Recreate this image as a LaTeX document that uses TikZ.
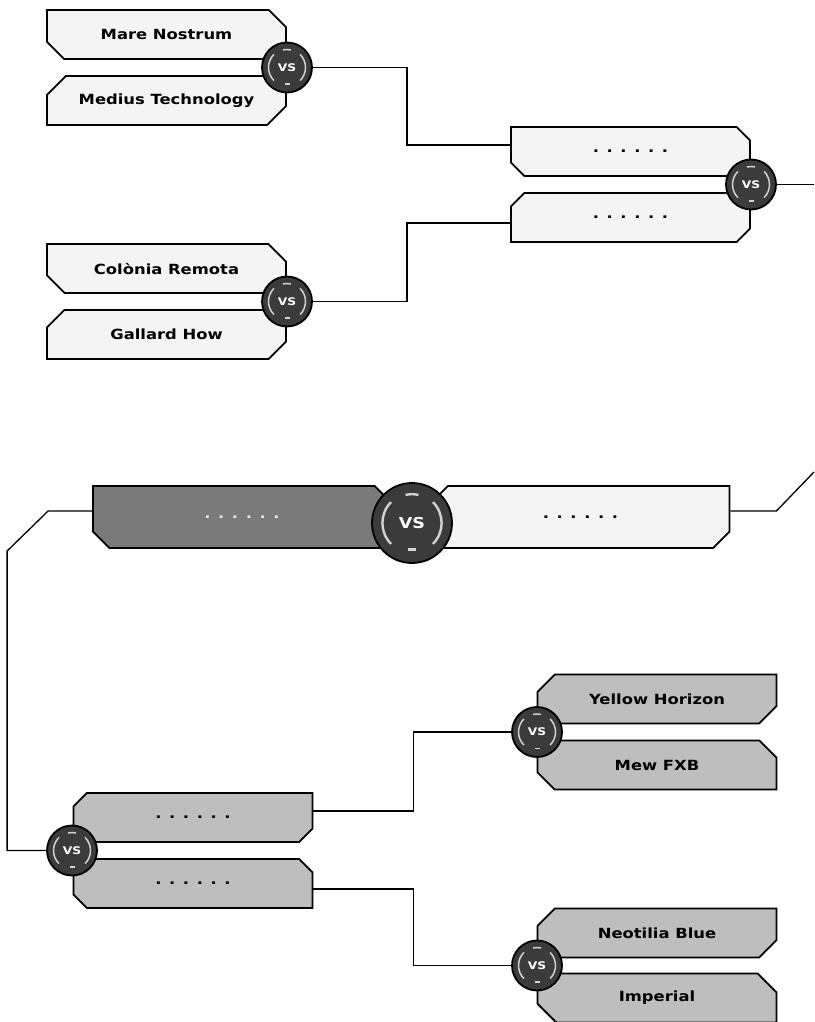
\documentclass[tikz,border=0pt]{standalone}
\usepackage{fontspec}
\setmainfont{DejaVu Sans}[FakeStretch=1.17]
\usetikzlibrary{shapes.misc}
\definecolor{boxlight}{HTML}{F4F4F4}
\definecolor{boxmid}{HTML}{BEBEBE}
\definecolor{boxdark}{HTML}{7A7A7A}
\definecolor{vsfill}{HTML}{3B3B3B}
\definecolor{vsarc}{HTML}{D2D2D2}
\tikzset{
  team/.style={chamfered rectangle, chamfered rectangle xsep=12pt, chamfered rectangle ysep=12pt,
    draw=black, line width=1.8pt, fill=boxlight, minimum width=239pt, minimum height=49pt,
    inner sep=0pt, font=\fontsize{14}{14}\selectfont\bfseries},
  cutup/.style={chamfered rectangle corners={north east,south west}},
  cutdown/.style={chamfered rectangle corners={north west,south east}},
  lower/.style={fill=boxmid},
  finalbox/.style={minimum width=298pt, minimum height=62pt, chamfered rectangle xsep=15pt, chamfered rectangle ysep=15pt},
  vs/.style={circle, draw=black, line width=1.8pt, fill=vsfill, minimum size=2*#1, inner sep=0pt,
    text=white, font=\fontsize{10.5}{10.5}\selectfont\bfseries,
    path picture={
      \draw[vsarc, line width=0.06*#1] (path picture bounding box.center) ++(135:0.74*#1)
        arc[start angle=135, end angle=225, radius=0.74*#1];
      \draw[vsarc, line width=0.06*#1] (path picture bounding box.center) ++(-45:0.74*#1)
        arc[start angle=-45, end angle=45, radius=0.74*#1];
      \draw[vsarc, line width=0.06*#1] (path picture bounding box.center) ++(77:0.72*#1)
        arc[start angle=77, end angle=103, radius=0.72*#1];
      \draw[vsarc, line width=0.07*#1] (path picture bounding box.center) ++(-0.1*#1,-0.66*#1) -- ++(0.2*#1,0);
    }},
  bigvs/.style={font=\fontsize{15}{15}\selectfont\bfseries},
  wire/.style={draw=black, line width=1.3pt}
}
\begin{document}
\begin{tikzpicture}[x=1pt,y=-1pt,line join=miter]
\useasboundingbox (0,0) rectangle (814,1022);
\node[team,cutup] (mare) at (166.5,34.5) {Mare Nostrum};
\node[team,cutdown] (medius) at (166.5,100.5) {Medius Technology};
\node[team,cutup] (colonia) at (166.5,268.5) {Colònia Remota};
\node[team,cutdown] (gallard) at (166.5,334.5) {Gallard How};
\node[team,cutup] (semiA) at (630.5,151.5) {. . . . . .};
\node[team,cutdown] (semiB) at (630.5,217.5) {. . . . . .};
\node[team,cutup,finalbox,fill=boxdark,text=black!10] (finalL) at (242,517) {. . . . . .};
\node[team,cutdown,finalbox] (finalR) at (580.5,517) {. . . . . .};
\node[team,cutdown,lower] (semiC) at (193,817.5) {. . . . . .};
\node[team,cutup,lower] (semiD) at (193,883.5) {. . . . . .};
\node[team,cutdown,lower] (yellow) at (657,699) {Yellow Horizon};
\node[team,cutup,lower] (mew) at (657,765) {Mew FXB};
\node[team,cutdown,lower] (neotilia) at (657,933) {Neotilia Blue};
\node[team,cutup,lower] (imperial) at (657,998) {Imperial};
\node[vs=25pt] (vsA) at (287,67.5) {VS};
\node[vs=25pt] (vsB) at (287,301.5) {VS};
\node[vs=25pt] (vsC) at (751,184.5) {VS};
\node[vs=40pt,bigvs] (vsF) at (412,523) {VS};
\node[vs=25pt] (vsD) at (72,850.5) {VS};
\node[vs=25pt] (vsE) at (537,732) {VS};
\node[vs=25pt] (vsG) at (537,965.5) {VS};
\coordinate (outC) at (814,184.5);
\coordinate (outF) at (814,472);
\draw[wire] (vsA.east) -- ++(94,0) |- ([yshift=6.5pt]semiA.west);
\draw[wire] (vsB.east) -- ++(94,0) |- ([yshift=-5.5pt]semiB.west);
\draw[wire] (vsC.east) -- (outC);
\draw[wire] ([yshift=6pt]finalL.west) -- ++(-44,0) -- ++(-41,40) |- (vsD.west);
\draw[wire] ([yshift=6pt]finalR.east) -- ++(46,0) -- (outF);
\draw[wire] ([yshift=6.5pt]semiC.east) -- ++(100,0) |- (vsE.west);
\draw[wire] ([yshift=-5.5pt]semiD.east) -- ++(100,0) |- (vsG.west);
\end{tikzpicture}
\end{document}
